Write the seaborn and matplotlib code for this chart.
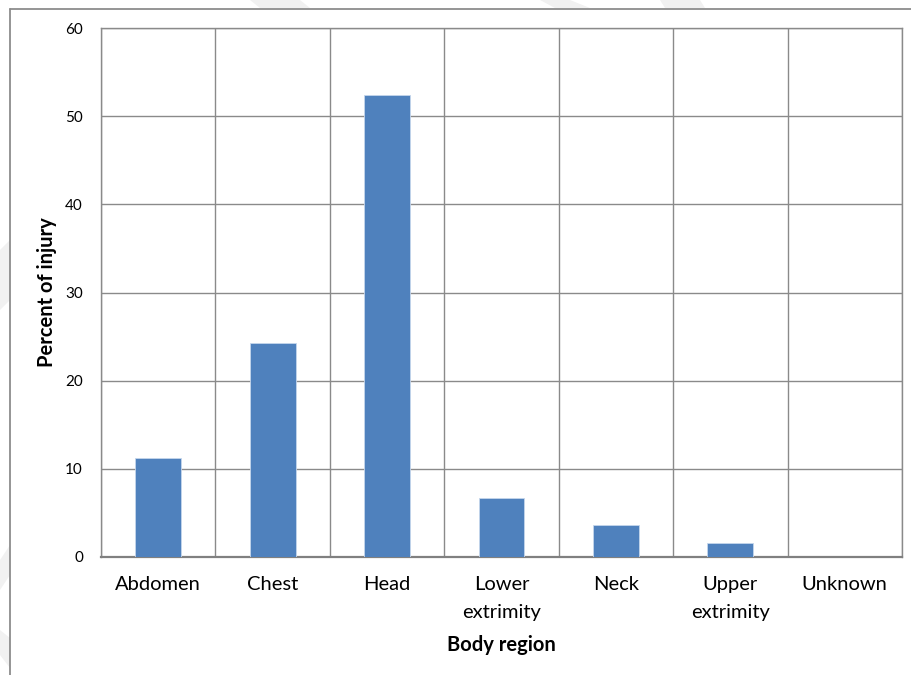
import matplotlib
matplotlib.use("Agg")
import matplotlib.pyplot as plt
from matplotlib.lines import Line2D
from matplotlib.patches import Polygon
import seaborn as sns
import pandas as pd

# Share of injuries by body region (%)
regions = ["Abdomen", "Chest", "Head", "Lower\nextrimity", "Neck", "Upper\nextrimity", "Unknown"]
percent = [11.25, 24.25, 52.4, 6.7, 3.6, 1.6, 0.0]
y_ticks = [0, 10, 20, 30, 40, 50, 60]

x_title = "Body region"
y_title = "Percent of injury"

sns.set_theme(style="white")
plt.rcParams["font.family"] = ["Lato", "DejaVu Sans"]

W, H = 912, 675
fig = plt.figure(figsize=(W / 100, H / 100), dpi=100)
fig.patch.set_facecolor("white")

# faint page marks outside the chart frame
shade = "#F1F1F1"
for pts in [
    [(0, 250), (10, 240), (10, 300), (0, 310)],
    [(0, 560), (10, 545), (10, 575), (0, 590)],
    [(0, 630), (10, 638), (10, 668), (0, 655)],
    [(250, 0), (300, 0), (310, 8), (260, 8)],
    [(540, 0), (570, 0), (590, 8), (555, 8)],
    [(660, 0), (700, 0), (705, 8), (665, 8)],
]:
    fig.patches.append(Polygon([(x / W, 1 - y / H) for x, y in pts], closed=True,
                               transform=fig.transFigure, facecolor=shade,
                               edgecolor="none", zorder=0))

# chart frame (open to the right and bottom)
frame_c = "#8C8C8C"
fig.add_artist(Line2D([10 / W, 1], [1 - 9 / H, 1 - 9 / H], transform=fig.transFigure,
                      color=frame_c, lw=1.3))
fig.add_artist(Line2D([10 / W, 10 / W], [0, 1 - 9 / H], transform=fig.transFigure,
                      color=frame_c, lw=1.3))

left, right, top, bottom = 101, 902, 28, 557
ax = fig.add_axes([left / W, 1 - bottom / H, (right - left) / W, (bottom - top) / H])

df = pd.DataFrame({"region": regions, "percent": percent})
sns.barplot(data=df, x="region", y="percent", color="#4F81BD", width=0.4,
            saturation=1, edgecolor="#C5D6EC", linewidth=0.6, ax=ax, zorder=3)

grid_c = "#8A8A8A"
ax.set_ylim(0, 60)
ax.set_xlim(-0.5, len(regions) - 0.5)
ax.set_yticks(y_ticks)
ax.set_yticklabels([str(t) for t in y_ticks])
ax.set_xticks(range(len(regions)), minor=False)
ax.set_xticks([i + 0.5 for i in range(-1, len(regions))], minor=True)

ax.grid(axis="y", which="major", color=grid_c, lw=1.0, zorder=0)
ax.grid(axis="x", which="minor", color=grid_c, lw=1.0, zorder=0)
ax.grid(axis="x", which="major", visible=False)

for s in ax.spines.values():
    s.set_visible(True)
    s.set_color(grid_c)
    s.set_linewidth(1.0)
ax.spines["bottom"].set_linewidth(1.6)
ax.spines["bottom"].set_color("#808080")

ax.tick_params(axis="x", which="both", length=0, pad=14, labelsize=14.5, colors="black")
ax.tick_params(axis="y", which="both", length=0, pad=13, labelsize=11, colors="black")
for lbl in ax.get_xticklabels():
    lbl.set_linespacing(1.75)

ax.set_xlabel(x_title, fontsize=14.5, fontweight="bold", color="black")
ax.set_ylabel(y_title, fontsize=14.5, fontweight="bold", color="black")
ax.xaxis.set_label_coords(0.5, -0.147)
ax.yaxis.set_label_coords(-0.055, 0.5)

fig.savefig("out.png", dpi=100, facecolor="white")
